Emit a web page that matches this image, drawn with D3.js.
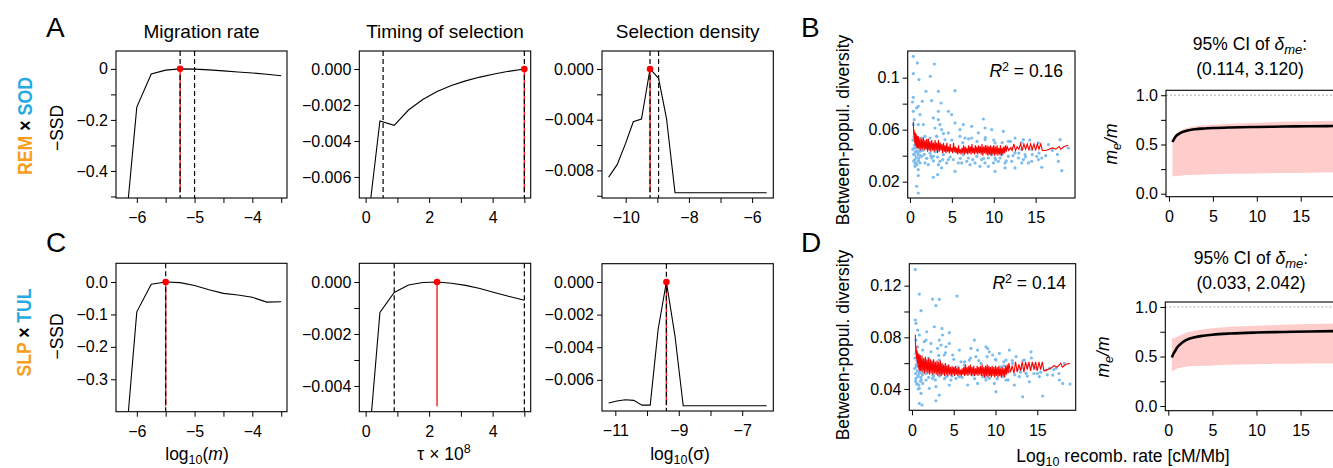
<!DOCTYPE html>
<html>
<head>
<meta charset="utf-8">
<script src="https://cdn.jsdelivr.net/npm/d3@7/dist/d3.min.js"></script>
<style>
  html,body{margin:0;padding:0;background:#fff;}
  svg{display:block;}
</style>
</head>
<body>
<script>
// ================= DATA =================
// -SSD profiles, REM x SOD (row A)
const migA_x = [-6.25,-6,-5.75,-5.5,-5.25,-5,-4.75,-4.5,-4.25,-4,-3.75,-3.5];
const migA_y = [-0.76,-0.150,-0.020,-0.005,0,-0.001,-0.004,-0.008,-0.012,-0.016,-0.021,-0.027];
const tauA_x = [0,0.45,0.9,1.35,1.8,2.25,2.7,3.15,3.6,4.05,4.5,5.0];
const tauA_y = [-0.0096,-0.00289,-0.00313,-0.00228,-0.0017,-0.00125,-0.00092,-0.00066,-0.00045,-0.00028,-0.00013,0];
const selA_x = [-10.54,-10.27,-10.0,-9.76,-9.5,-9.23,-8.96,-8.71,-8.44,-8.18,-7.91,-7.65,-7.39,-7.12,-6.86,-6.6,-6.33,-6.07,-5.81,-5.54];
const selA_y = [-0.00853,-0.00755,-0.00585,-0.00416,-0.00395,0,-0.00074,-0.00389,-0.00976,-0.00976,-0.00976,-0.00976,-0.00976,-0.00976,-0.00976,-0.00976,-0.00976,-0.00976,-0.00976,-0.00976];
// -SSD profiles, SLP x TUL (row C)
const migC_x = [-6.25,-6,-5.75,-5.5,-5.25,-5,-4.75,-4.5,-4.25,-4,-3.75,-3.5];
const migC_y = [-0.62,-0.092,-0.007,0,-0.002,-0.011,-0.024,-0.035,-0.040,-0.047,-0.062,-0.061];
const tauC_x = [0,0.45,0.9,1.35,1.8,2.25,2.7,3.15,3.6,4.05,4.5,5.0];
const tauC_y = [-0.0077,-0.00117,-0.0004,-0.000115,-0.00002,0,-0.00005,-0.00013,-0.00025,-0.0004,-0.00055,-0.0007];
const selC_x = [-11.21,-10.95,-10.68,-10.42,-10.16,-9.9,-9.65,-9.39,-9.12,-8.86,-8.6,-8.33,-8.07,-7.81,-7.54,-7.28,-7.02,-6.75,-6.49,-6.23];
const selC_y = [-0.00742,-0.0073,-0.00722,-0.00726,-0.00755,-0.00755,-0.0029,0,-0.0033,-0.00759,-0.00759,-0.00759,-0.00759,-0.00759,-0.00759,-0.00759,-0.00759,-0.00759,-0.00759,-0.00759];
// best estimates (red) and dashed CI bounds
const bestA = [-5.25, 5.0, -9.23];
const bestC = [-5.5, 2.25, -9.39];
const dashA = [[-5.25,-5],[0.55,5.0],[-9.23,-8.96]];
const dashC = [[-5.5],[0.9,5.0],[-9.39]];

// ticks
const migTicks = [-6,-5.5,-5,-4.5,-4,-3.5], migLabels = [-6,-5,-4];
const tauTicks = [0,1,2,3,4,5], tauLabels = [0,2,4];
const selATicks = [-10,-9,-8,-7,-6], selALabels = [-10,-8,-6];
const selCTicks = [-11,-10,-9,-8,-7], selCLabels = [-11,-9,-7];
const yMigA = [0,-0.1,-0.2,-0.3,-0.4,-0.5], yMigALab = [0,-0.2,-0.4];
const yTauA = [0,-0.002,-0.004,-0.006], yTauALab = [0,-0.002,-0.004,-0.006];
const ySelA = [0,-0.002,-0.004,-0.006,-0.008,-0.010], ySelALab = [0,-0.004,-0.008];
const yMigC = [0,-0.1,-0.2,-0.3], yMigCLab = [0,-0.1,-0.2,-0.3];
const yTauC = [0,-0.001,-0.002,-0.003,-0.004], yTauCLab = [0,-0.002,-0.004];
const ySelC = [0,-0.002,-0.004,-0.006], ySelCLab = [0,-0.002,-0.004,-0.006];

// Between-population diversity vs recombination rate (B)
const bX = [0.40,0.88,2.91,0.40,1.08,2.43,5.38,3.39,1.91,0.40,0.30,2.59,1.47,0.99,3.70,0.80,0.40,3.39,1.20,4.58,2.79,3.39,4.98,8.76,0.52,1.59,0.99,0.40,3.58,5.38,6.37,7.37,5.97,9.76,8.96,11.15,8.16,4.58,3.19,1.79,2.39,4.18,6.57,8.96,7.37,5.97,12.54,13.54,11.75,10.16,15.33,16.53,17.92,18.92,14.54,0.60,0.80,0.99,1.39,0.60,1.20,1.79,3.58,3.39,2.19,0.60,0.99,3.78,5.77,6.77,7.77,8.96,10.55,11.35,12.15,13.34,14.14,15.33,7.97,9.36,9.76,12.94,5.38,10.16,11.35,15.73,12.54,17.72,18.12,3.31,2.79,0.99,0.80,0.99,4.58,5.18,6.37,6.97,8.56,10.75,13.54,14.54,15.13,9.36,9.96,3.98,2.59,4.38,7.17,8.36,6.17,11.75,12.54,13.74,15.73,5.38,4.18,3.19,1.59,1.99,0.52,0.68,0.92,0.52,1.20,0.72,1.39,1.08,2.99,3.78,3.19,3.58,2.39,2.79,7.37,9.36,10.55,8.56,6.57,12.15,13.34,10.95,10.16,
  0.35,0.45,0.55,0.65,0.75,0.85,0.95,1.05,1.15,1.25,0.35,0.5,0.7,0.9,1.1,1.3,1.5,1.7,2.0,2.2,2.5,2.8,3.0,3.3,3.6,3.9,4.3,4.8,5.5,6.0,6.8,7.5,8.2,8.8,9.5,10.2,10.8,11.5,12.3,13.0,13.8,14.6,15.4,16.2,17.0,17.6,0.45,0.62,0.82,1.02,1.6,2.4,3.2,4.0,5.0,6.3,7.0,8.0,9.0,10.0,11.0,12.0,13.3,14.3];
const bY = [0.1164,0.1113,0.1105,0.1031,0.0985,0.1011,0.0900,0.0895,0.0895,0.0849,0.0813,0.0823,0.0818,0.0780,0.0805,0.0767,0.0741,0.0741,0.0716,0.0741,0.0690,0.0677,0.0716,0.0682,0.0677,0.0639,0.0639,0.0639,0.0639,0.0652,0.0639,0.0626,0.0600,0.0600,0.0613,0.0587,0.0575,0.0575,0.0549,0.0549,0.0536,0.0523,0.0536,0.0523,0.0536,0.0549,0.0536,0.0523,0.0511,0.0498,0.0498,0.0485,0.0523,0.0459,0.0447,0.0459,0.0434,0.0408,0.0395,0.0370,0.0344,0.0344,0.0357,0.0331,0.0331,0.0318,0.0293,0.0306,0.0344,0.0357,0.0344,0.0344,0.0357,0.0344,0.0357,0.0344,0.0344,0.0370,0.0395,0.0382,0.0408,0.0382,0.0280,0.0280,0.0306,0.0311,0.0306,0.0357,0.0285,0.0254,0.0234,0.0247,0.0165,0.0113,0.0370,0.0370,0.0408,0.0382,0.0370,0.0382,0.0370,0.0357,0.0395,0.0318,0.0344,0.0408,0.0382,0.0344,0.0331,0.0318,0.0344,0.0395,0.0421,0.0408,0.0382,0.0434,0.0459,0.0434,0.0485,0.0459,0.0536,0.0498,0.0472,0.0408,0.0434,0.0344,0.0536,0.0511,0.0613,0.0600,0.0485,0.0459,0.0421,0.0395,0.0459,0.0459,0.0434,0.0434,0.0447,0.0459,0.0447,0.0408,0.0382,
  0.045,0.041,0.048,0.043,0.039,0.046,0.042,0.038,0.044,0.040,0.052,0.055,0.053,0.050,0.049,0.047,0.044,0.041,0.038,0.046,0.040,0.036,0.043,0.039,0.047,0.037,0.044,0.039,0.045,0.038,0.043,0.037,0.044,0.038,0.042,0.037,0.043,0.036,0.040,0.042,0.039,0.041,0.042,0.040,0.044,0.041,0.036,0.034,0.033,0.036,0.050,0.048,0.055,0.057,0.052,0.050,0.053,0.051,0.054,0.052,0.050,0.051,0.050,0.052];
// (D)
const dX = [0.40,0.88,5.39,2.47,3.27,2.87,1.08,0.40,0.48,0.68,0.88,2.67,3.59,4.47,1.76,1.48,3.67,3.27,5.67,7.86,8.86,9.26,11.66,14.25,12.46,13.45,11.26,10.06,6.87,7.66,4.87,4.47,4.07,3.07,2.27,0.48,1.08,0.68,0.88,0.48,1.28,0.88,1.08,0.88,1.20,2.07,2.87,3.27,2.87,4.67,5.67,6.67,7.86,8.86,9.86,10.06,11.26,12.26,13.25,14.05,15.25,15.65,17.64,18.04,18.92,16.85,16.05,14.45,13.05,11.66,10.66,9.46,8.46,7.26,6.27,5.27,4.07,3.47,2.47,1.68,1.48,1.88,3.27,3.87,4.27,6.27,8.26,9.66,10.46,7.06,5.87,12.85,13.65,14.85,17.25,18.24,12.05,10.86,9.26,4.47,2.07,2.67,1.28,0.68,0.48,1.68,2.27,3.47,7.47,9.06,0.5,0.6,0.7,0.9,1.0,1.1,0.55,0.75,1.3,2.0,2.3,2.6,3.0,3.8,4.2,5.0,5.5,6.5,8.0,9.0,10.3,11.0,12.6,13.8,15.0,16.5,
  0.35,0.45,0.55,0.65,0.75,0.85,0.95,1.05,1.15,1.25,0.35,0.5,0.7,0.9,1.1,1.3,1.5,1.7,2.0,2.2,2.5,2.8,3.0,3.3,3.6,3.9,4.3,4.8,5.5,6.0,6.8,7.5,8.2,8.8,9.5,10.2,10.8,11.5,12.3,13.0,13.8,14.6,15.4,16.2,17.0,17.6,0.45,0.62,0.82,1.02,1.6,2.4,3.2,4.0,5.0,6.3,7.0,8.0,9.0,10.0,11.0,12.0,13.3,14.3];
const dY = [0.1326,0.1135,0.1119,0.1096,0.1094,0.1045,0.1006,0.0934,0.0908,0.0856,0.0818,0.0882,0.0869,0.0836,0.0843,0.0766,0.0818,0.0779,0.0701,0.0701,0.0727,0.0688,0.0701,0.0688,0.0650,0.0624,0.0624,0.0624,0.0624,0.0650,0.0663,0.0753,0.0727,0.0714,0.0688,0.0676,0.0624,0.0572,0.0521,0.0482,0.0443,0.0405,0.0366,0.0288,0.0276,0.0405,0.0418,0.0353,0.0309,0.0469,0.0495,0.0431,0.0443,0.0469,0.0443,0.0379,0.0469,0.0431,0.0340,0.0456,0.0495,0.0345,0.0469,0.0443,0.0438,0.0508,0.0547,0.0585,0.0560,0.0534,0.0572,0.0521,0.0495,0.0508,0.0521,0.0482,0.0495,0.0521,0.0482,0.0469,0.0572,0.0611,0.0624,0.0663,0.0578,0.0585,0.0598,0.0663,0.0676,0.0714,0.0611,0.0495,0.0521,0.0560,0.0560,0.0598,0.0598,0.0495,0.0482,0.0431,0.0547,0.0572,0.0701,0.0727,0.0779,0.0779,0.0753,0.0740,0.0779,0.0714,0.058,0.062,0.050,0.066,0.054,0.047,0.044,0.040,0.052,0.064,0.058,0.050,0.056,0.054,0.050,0.054,0.057,0.055,0.055,0.056,0.053,0.058,0.055,0.058,0.052,0.056,
  0.056,0.052,0.059,0.054,0.050,0.057,0.053,0.049,0.055,0.051,0.064,0.067,0.065,0.062,0.061,0.059,0.056,0.052,0.049,0.057,0.051,0.047,0.054,0.050,0.058,0.048,0.055,0.050,0.056,0.049,0.054,0.048,0.055,0.049,0.053,0.048,0.054,0.047,0.051,0.053,0.050,0.052,0.053,0.051,0.055,0.052,0.046,0.044,0.043,0.046,0.062,0.060,0.066,0.068,0.063,0.061,0.064,0.062,0.065,0.063,0.061,0.062,0.062,0.064];
// running mean (red) along recombination rate
const redX = [0.4,0.45,0.5,0.55,0.6,0.65,0.7,0.75,0.8,0.85,0.9,0.95,1.0,
  1.1,1.2,1.3,1.4,1.5,1.6,1.7,1.8,1.9,2.0, 2.1,2.2,2.3,2.4,2.5,2.6,2.7,2.8,2.9,3.0, 3.1,3.2,3.3,3.4,3.5,3.6,3.7,3.8,3.9,4.0,
  4.1,4.2,4.3,4.4,4.5,4.6,4.7,4.8,4.9,5.0, 5.1,5.2,5.3,5.4,5.5,5.6,5.7,5.8,5.9,6.0, 6.1,6.2,6.3,6.4,6.5,6.6,6.7,6.8,6.9,7.0,
  7.1,7.2,7.3,7.4,7.5,7.6,7.7,7.8,7.9,8.0, 8.1,8.2,8.3,8.4,8.5,8.6,8.7,8.8,8.9,9.0, 9.1,9.2,9.3,9.4,9.5,9.6,9.7,9.8,9.9,10.0,
  10.1,10.2,10.3,10.4,10.5,10.6,10.7,10.8,10.9,11.0, 11.1,11.2,11.3,11.4,11.5,11.6,
  11.8,12.0,12.2,12.4,12.6,12.8,13.0,13.2,13.4,13.6,13.8,14.0,14.2,14.4,14.6,14.8,15.0,15.2,15.4,15.6,
  15.8,16.2,16.6,17.0,17.4,17.8,18.0,18.4,18.9];
const bRedY = [0.066,0.056,0.060,0.050,0.058,0.048,0.057,0.047,0.056,0.046,0.055,0.046,0.055,
  0.045,0.054,0.044,0.053,0.045,0.054,0.044,0.052,0.045,0.053, 0.043,0.053,0.044,0.051,0.043,0.052,0.044,0.050,0.043,0.052,
  0.044,0.050,0.042,0.052,0.043,0.050,0.044,0.049,0.042,0.050, 0.043,0.048,0.042,0.050,0.043,0.047,0.042,0.049,0.043,0.046,
  0.042,0.050,0.043,0.047,0.042,0.046,0.041,0.048,0.042,0.045, 0.041,0.046,0.042,0.048,0.041,0.047,0.042,0.046,0.041,0.048,
  0.042,0.047,0.041,0.049,0.042,0.046,0.041,0.048,0.042,0.047, 0.041,0.048,0.042,0.047,0.041,0.049,0.040,0.047,0.042,0.048,
  0.041,0.048,0.040,0.047,0.041,0.048,0.040,0.047,0.041,0.048, 0.040,0.047,0.041,0.048,0.040,0.046,0.041,0.048,0.040,0.046,
  0.041,0.047,0.042,0.048,0.043,0.047,
  0.044,0.046,0.044,0.049,0.044,0.047,0.045,0.049,0.044,0.049,0.045,0.049,0.044,0.049,0.045,0.049,0.044,0.049,0.045,0.049,
  0.044,0.044,0.045,0.046,0.045,0.047,0.045,0.047,0.048];
const dRedY = [0.082,0.068,0.073,0.063,0.070,0.060,0.068,0.057,0.067,0.055,0.066,0.054,0.066,
  0.054,0.066,0.053,0.064,0.052,0.065,0.053,0.063,0.052,0.064, 0.051,0.063,0.052,0.062,0.051,0.063,0.052,0.061,0.051,0.062,
  0.050,0.061,0.051,0.062,0.050,0.060,0.051,0.059,0.050,0.060, 0.051,0.058,0.050,0.059,0.051,0.057,0.050,0.058,0.051,0.057,
  0.050,0.058,0.051,0.056,0.050,0.057,0.051,0.055,0.050,0.056, 0.051,0.057,0.050,0.059,0.051,0.057,0.050,0.058,0.051,0.059,
  0.050,0.057,0.051,0.058,0.050,0.056,0.051,0.058,0.050,0.057, 0.051,0.058,0.050,0.059,0.050,0.057,0.049,0.058,0.050,0.059,
  0.049,0.058,0.050,0.057,0.049,0.058,0.050,0.057,0.049,0.058, 0.050,0.057,0.049,0.058,0.050,0.056,0.049,0.057,0.050,0.056,
  0.049,0.058,0.051,0.059,0.052,0.060,
  0.053,0.058,0.052,0.061,0.053,0.059,0.054,0.061,0.053,0.061,0.055,0.061,0.054,0.061,0.055,0.061,0.054,0.061,0.055,0.061,
  0.054,0.055,0.056,0.058,0.057,0.060,0.057,0.059,0.060];
const r2B = "0.16", r2D = "0.14";
const divTicksB = [0.02,0.04,0.06,0.08,0.1], divLabB = [0.02,0.06,0.1];
const divTicksD = [0.04,0.06,0.08,0.10,0.12], divLabD = [0.04,0.08,0.12];
const recTicks = [0,5,10,15];

// me/m along recombination rate
const rGrid = [0.4,0.6,0.8,1,1.5,2,3,4,5,7,10,13,16,19.7];
const meB = [0.525,0.56,0.585,0.60,0.625,0.64,0.655,0.662,0.667,0.673,0.678,0.682,0.685,0.688];
const meB_hi = [0.54,0.58,0.61,0.625,0.65,0.665,0.685,0.695,0.70,0.71,0.72,0.73,0.735,0.745];
const meB_lo = [0.175,0.178,0.18,0.182,0.186,0.189,0.193,0.196,0.198,0.202,0.206,0.21,0.213,0.216];
const meD = [0.49,0.53,0.56,0.59,0.635,0.665,0.695,0.71,0.72,0.732,0.742,0.748,0.752,0.757];
const meD_hi = [0.68,0.685,0.69,0.70,0.72,0.74,0.76,0.775,0.785,0.80,0.81,0.82,0.828,0.835];
const meD_lo = [0.345,0.36,0.37,0.378,0.39,0.397,0.404,0.407,0.41,0.417,0.422,0.426,0.429,0.431];
const ciB = "(0.114, 3.120)", ciD = "(0.033, 2.042)";
const meTicks = [0,0.25,0.5,0.75,1], meLab = [0,0.5,1];

// ================= DRAWING =================
const FONT = "'Liberation Sans', Arial, Helvetica, sans-serif";
const ORANGE = "#F99D1C", BLUE = "#27AAE1";
const svg = d3.select("body").append("svg").attr("width",1333).attr("height",468)
  .attr("font-family",FONT);
let clipN = 0;
const minus = s => String(s).replace(/^-/, "\u2212");
const has = (arr, d) => arr.some(v => Math.abs(v-d) < 1e-9);

function makeFrame(box, xd, yd) {
  const x = d3.scaleLinear().domain(xd).range([box[0], box[1]]);
  const y = d3.scaleLinear().domain(yd).range([box[3], box[2]]);
  const id = "clip" + (clipN++);
  svg.append("clipPath").attr("id", id).append("rect")
    .attr("x", box[0]).attr("y", box[2]).attr("width", box[1]-box[0]).attr("height", box[3]-box[2]);
  const g = svg.append("g");
  const inner = g.append("g").attr("clip-path", `url(#${id})`);
  return {x, y, g, inner};
}
function drawAxes(g, x, y, box, xt, xl, xf, yt, yl, yf) {
  const xa = d3.axisBottom(x).tickValues(xt).tickSize(5).tickPadding(9).tickSizeOuter(0)
    .tickFormat(d => has(xl, d) ? minus(xf(d)) : "");
  const gx = g.append("g").attr("transform", `translate(0,${box[3]})`).call(xa);
  const ya = d3.axisLeft(y).tickValues(yt).tickSize(5).tickPadding(3).tickSizeOuter(0)
    .tickFormat(d => has(yl, d) ? minus(yf(d)) : "");
  const gy = g.append("g").attr("transform", `translate(${box[0]},0)`).call(ya);
  [gx, gy].forEach(a => {
    a.select(".domain").remove();
    a.attr("font-size", 16).attr("font-family", FONT);
    a.selectAll("line").attr("stroke", "#000");
    a.selectAll("text").attr("fill", "#000");
  });
  g.append("rect").attr("x", box[0]).attr("y", box[2]).attr("width", box[1]-box[0]).attr("height", box[3]-box[2])
    .attr("fill", "none").attr("stroke", "#000").attr("stroke-width", 1.1);
}

function ssdPanel(p) {
  const {x, y, g, inner} = makeFrame(p.box, p.xd, p.yd);
  const yLimMin = p.yd[0] + 0.04*(p.yd[1]-p.yd[0])/1.08;
  const by = p.ys[p.xs.findIndex(v => Math.abs(v-p.best) < 1e-9)];
  inner.append("line").attr("x1", x(p.best)).attr("x2", x(p.best))
    .attr("y1", y(yLimMin)).attr("y2", y(by)).attr("stroke", "#ff1a1a").attr("stroke-width", 1.4);
  p.dash.forEach(v => inner.append("line").attr("x1", x(v)).attr("x2", x(v))
    .attr("y1", p.box[2]).attr("y2", p.box[3]).attr("stroke", "#000").attr("stroke-width", 1.2)
    .attr("stroke-dasharray", "5,3"));
  inner.append("path").datum(d3.zip(p.xs, p.ys))
    .attr("d", d3.line().x(d => x(d[0])).y(d => y(d[1])))
    .attr("fill", "none").attr("stroke", "#000").attr("stroke-width", 1.1);
  inner.append("circle").attr("cx", x(p.best)).attr("cy", y(by)).attr("r", 3.3).attr("fill", "#ff0000");
  drawAxes(g, x, y, p.box, p.xt, p.xl, d => String(d), p.yt, p.yl, p.yf);
}

const f0 = d => d === 0 ? "0" : d.toFixed(1);
const f1 = d => d.toFixed(1);
const f3 = d => d.toFixed(3);

ssdPanel({box:[116,287,51,198], xd:[-6.36,-3.4], yd:[-0.506,0.07], xs:migA_x, ys:migA_y, best:bestA[0], dash:dashA[0],
  xt:migTicks, xl:migLabels, yt:yMigA, yl:yMigALab, yf:f0});
ssdPanel({box:[359.3,530.7,51,198], xd:[-0.2,5.2], yd:[-0.00717,0.001], xs:tauA_x, ys:tauA_y, best:bestA[1], dash:dashA[1],
  xt:tauTicks, xl:tauLabels, yt:yTauA, yl:yTauALab, yf:f3});
ssdPanel({box:[602,773.3,51,198], xd:[-10.75,-5.33], yd:[-0.01018,0.00142], xs:selA_x, ys:selA_y, best:bestA[2], dash:dashA[2],
  xt:selATicks, xl:selALabels, yt:ySelA, yl:ySelALab, yf:f3});
ssdPanel({box:[116,287,263.3,411.7], xd:[-6.36,-3.4], yd:[-0.4,0.0577], xs:migC_x, ys:migC_y, best:bestC[0], dash:dashC[0],
  xt:migTicks, xl:migLabels, yt:yMigC, yl:yMigCLab, yf:f1});
ssdPanel({box:[359.3,530.7,263.3,411.7], xd:[-0.2,5.2], yd:[-0.00499,0.00072], xs:tauC_x, ys:tauC_y, best:bestC[1], dash:dashC[1],
  xt:tauTicks, xl:tauLabels, yt:yTauC, yl:yTauCLab, yf:f3});
ssdPanel({box:[602,773.3,263.7,411], xd:[-11.42,-6.02], yd:[-0.00791,0.00112], xs:selC_x, ys:selC_y, best:bestC[2], dash:dashC[2],
  xt:selCTicks, xl:selCLabels, yt:ySelC, yl:ySelCLab, yf:f3});

function scatterPanel(p) {
  const {x, y, g, inner} = makeFrame(p.box, p.xd, p.yd);
  inner.selectAll("circle").data(d3.zip(p.px, p.py)).join("circle")
    .attr("cx", d => x(d[0])).attr("cy", d => y(d[1])).attr("r", 1.6).attr("fill", "#7DBDEE");
  inner.append("path").datum(d3.zip(redX, p.ry))
    .attr("d", d3.line().x(d => x(d[0])).y(d => y(d[1])))
    .attr("fill", "none").attr("stroke", "#ff0000").attr("stroke-width", 1.1);
  drawAxes(g, x, y, p.box, recTicks, recTicks, d => String(d), p.yt, p.yl, d => String(d));
  const t = g.append("text").attr("x", p.r2x).attr("y", p.r2y).attr("text-anchor", "end").attr("font-size", 17.5);
  t.append("tspan").attr("font-style", "italic").text("R");
  t.append("tspan").attr("font-size", 12.5).attr("dy", -6).text("2");
  t.append("tspan").attr("dy", 6).text(" = " + p.r2);
}
scatterPanel({box:[907.7,1075,51,198], xd:[-0.27,19.7], yd:[0.00746,0.1205], px:bX, py:bY, ry:bRedY,
  yt:divTicksB, yl:divLabB, r2:r2B, r2x:1063, r2y:77});
scatterPanel({box:[909.3,1075.7,263.7,410.3], xd:[-0.32,19.6], yd:[0.0235,0.137], px:dX, py:dY, ry:dRedY,
  yt:divTicksD, yl:divLabD, r2:r2D, r2x:1066, r2y:288.5});

function mePanel(p) {
  const {x, y, g, inner} = makeFrame(p.box, p.xd, p.yd);
  inner.append("line").attr("x1", p.box[0]).attr("x2", p.box[1]).attr("y1", y(1)).attr("y2", y(1))
    .attr("stroke", "#999").attr("stroke-width", 0.8).attr("stroke-dasharray", "2,2");
  inner.append("path").datum(d3.range(rGrid.length))
    .attr("d", d3.area().x(i => x(rGrid[i])).y0(i => y(p.lo[i])).y1(i => y(p.hi[i])).curve(d3.curveMonotoneX))
    .attr("fill", "#FFCCCC");
  inner.append("path").datum(d3.zip(rGrid, p.mid))
    .attr("d", d3.line().x(d => x(d[0])).y(d => y(d[1])).curve(d3.curveMonotoneX))
    .attr("fill", "none").attr("stroke", "#000").attr("stroke-width", 2.6);
  drawAxes(g, x, y, p.box, recTicks, recTicks, d => String(d), meTicks, meLab, f1);
  const t1 = g.append("text").attr("x", p.tx).attr("y", p.ty).attr("text-anchor", "middle").attr("font-size", 17.5);
  t1.append("tspan").text("95% CI of ");
  t1.append("tspan").attr("font-style", "italic").text("δ");
  t1.append("tspan").attr("font-style", "italic").attr("font-size", 13).attr("dy", 4).text("me");
  t1.append("tspan").attr("dy", -4).text(":");
  g.append("text").attr("x", p.tx).attr("y", p.ty + 25).attr("text-anchor", "middle").attr("font-size", 17.5).text(p.ci);
  const yl = g.append("text").attr("transform", `translate(${p.lx},${p.ly}) rotate(-90)`)
    .attr("text-anchor", "middle").attr("font-size", 17.5).attr("font-style", "italic");
  yl.append("tspan").text("m");
  yl.append("tspan").attr("font-size", 12.5).attr("dy", 4).text("e");
  yl.append("tspan").attr("dy", -4).text("/m");
}
mePanel({box:[1166,1342,90.3,196.7], xd:[-0.34,19.7], yd:[-0.03,1.05], mid:meB, hi:meB_hi, lo:meB_lo,
  ci:ciB, tx:1250, ty:50, lx:1116.5, ly:144});
mePanel({box:[1165.3,1342,302,410.7], xd:[-0.34,19.7], yd:[-0.047,1.05], mid:meD, hi:meD_hi, lo:meD_lo,
  ci:ciD, tx:1251, ty:263.5, lx:1108.5, ly:357});

// ---------- text labels ----------
function txt(x, y, s, size, anchor="middle") {
  return svg.append("text").attr("x", x).attr("y", y).attr("font-size", size).attr("text-anchor", anchor).text(s);
}
// panel letters
txt(46, 36.5, "A", 28, "start");
txt(801, 36.5, "B", 28, "start");
txt(46, 251.5, "C", 28, "start");
txt(801, 251.5, "D", 28, "start");
// column titles
txt(201.5, 37.5, "Migration rate", 19);
txt(445, 37.5, "Timing of selection", 19);
txt(687.7, 37.5, "Selection density", 19);
// cross labels
function cross(xb, yc, a, b, len) {
  const t = svg.append("text").attr("transform", `translate(${xb},${yc}) rotate(-90)`)
    .attr("text-anchor", "middle").attr("font-size", 21).attr("font-weight", "bold")
    .attr("textLength", len).attr("lengthAdjust", "spacingAndGlyphs");
  t.append("tspan").attr("fill", ORANGE).text(a);
  t.append("tspan").attr("fill", "#000").text(" × ");
  t.append("tspan").attr("fill", BLUE).text(b);
}
cross(31.5, 126, "REM", "SOD", 98);
cross(31, 332.5, "SLP", "TUL", 88);
// -SSD labels
svg.append("text").attr("transform", "translate(63,128) rotate(-90)").attr("text-anchor", "middle").attr("font-size", 17.5).text("\u2212SSD");
svg.append("text").attr("transform", "translate(62.7,336.5) rotate(-90)").attr("text-anchor", "middle").attr("font-size", 17.5).text("\u2212SSD");
// diversity labels
svg.append("text").attr("transform", "translate(849.3,130) rotate(-90)").attr("text-anchor", "middle").attr("font-size", 17.5).text("Between-popul. diversity");
svg.append("text").attr("transform", "translate(849.3,345) rotate(-90)").attr("text-anchor", "middle").attr("font-size", 17.5).text("Between-popul. diversity");
// x-axis labels, bottom row
{
  const t = svg.append("text").attr("x", 197).attr("y", 460).attr("text-anchor", "middle").attr("font-size", 17.5);
  t.append("tspan").text("log");
  t.append("tspan").attr("font-size", 12.5).attr("dy", 4).text("10");
  t.append("tspan").attr("dy", -4).text("(");
  t.append("tspan").attr("font-style", "italic").text("m");
  t.append("tspan").text(")");
}
{
  const t = svg.append("text").attr("x", 444).attr("y", 460).attr("text-anchor", "middle").attr("font-size", 17.5);
  t.append("tspan").text("τ × 10");
  t.append("tspan").attr("font-size", 12.5).attr("dy", -7).text("8");
}
{
  const t = svg.append("text").attr("x", 680).attr("y", 460).attr("text-anchor", "middle").attr("font-size", 17.5);
  t.append("tspan").text("log");
  t.append("tspan").attr("font-size", 12.5).attr("dy", 4).text("10");
  t.append("tspan").attr("dy", -4).text("(σ)");
}
{
  const t = svg.append("text").attr("x", 1123).attr("y", 462).attr("text-anchor", "middle").attr("font-size", 17.5);
  t.append("tspan").text("Log");
  t.append("tspan").attr("font-size", 12.5).attr("dy", 4).text("10");
  t.append("tspan").attr("dy", -4).text(" recomb. rate [cM/Mb]");
}
</script>
</body>
</html>
